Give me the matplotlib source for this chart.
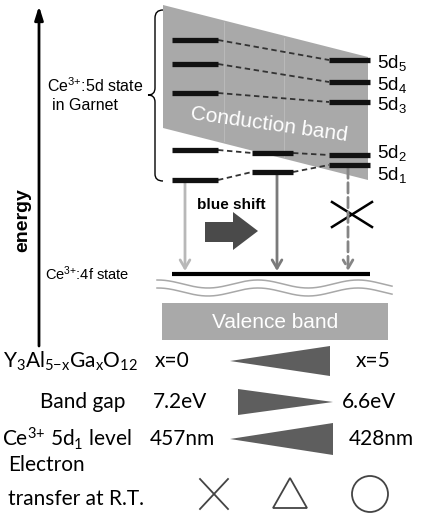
import numpy as np
import matplotlib
matplotlib.use("Agg")
import matplotlib.pyplot as plt
from matplotlib.patches import Polygon, Rectangle, Circle
from matplotlib.path import Path
from matplotlib.patches import PathPatch

plt.rcParams["mathtext.default"] = "regular"
TOP_FONT = ["Liberation Sans", "DejaVu Sans"]
LOW_FONT = ["Lato", "DejaVu Sans"]

# --- diagram values (pixel units, y grows downward) -------------------------
level_names = ["5d$_5$", "5d$_4$", "5d$_3$", "5d$_2$", "5d$_1$"]
levels_x0 = [40, 64, 93, 150, 180]          # Ce3+ 5d levels, x=0 garnet
levels_mid = [None, None, None, 153, 172]   # intermediate Ga content
levels_x5 = [60, 82, 102, 155, 165]         # x=5 garnet
label_y = [63, 85, 105, 153, 175]
level_4f = 274

emission_x = [185, 277, 348]
emission_start = [182, 175, 168]
emission_color = ["#b8b8b8", "#7a7a7a", "#858585"]
emission_style = ["solid", "solid", "dashed"]

row_labels = ["Y$_3$Al$_{5{-}x}$Ga$_x$O$_{12}$", "Band gap", "Ce$^{3{+}}$ 5d$_1$ level"]
row_left_vals = ["x=0", "7.2eV", "457nm"]
row_right_vals = ["x=5", "6.6eV", "428nm"]
row_y = [361, 402, 439]
row_narrow_side = ["left", "right", "left"]
transfer_marks = ["cross", "triangle", "circle"]

# --- figure -----------------------------------------------------------------
fig = plt.figure(figsize=(4.22, 5.15), dpi=100)
ax = fig.add_axes([0, 0, 1, 1])
ax.set_xlim(0, 422)
ax.set_ylim(515, 0)
ax.axis("off")

# conduction band
ax.add_patch(Polygon([(163, 5), (368, 57), (368, 180), (163, 128)],
                     closed=True, fc="#a9a9a9", ec="none", zorder=1))
for xv in (224, 284):
    ax.plot([xv, xv], [5 + (xv - 163) * 52 / 205 + 2, 128 + (xv - 163) * 52 / 205 - 2],
            color="#b9b9b9", lw=0.8, zorder=1.5)
ax.text(269, 125, "Conduction band", color="white", fontsize=15, family=TOP_FONT,
        rotation=-8, ha="center", va="center", rotation_mode="anchor", zorder=2)

# level bars and dashed connectors
cols = [(172, 218), (252, 293), (329, 370)]
for i in range(5):
    ys = [levels_x0[i], levels_mid[i], levels_x5[i]]
    pts = [(c, y) for c, y in zip(cols, ys) if y is not None]
    for (xa, xb), y in pts:
        ax.plot([xa, xb], [y, y], color="#111111", lw=3.8, solid_capstyle="butt", zorder=4)
    for ((xa, xb), ya), ((xc, xd), yb) in zip(pts[:-1], pts[1:]):
        ax.plot([xb, xc], [ya, yb], color="#333333", lw=1.3, ls=(0, (3, 2)), zorder=3)
    ax.text(377, label_y[i], level_names[i], fontsize=13.5, family=TOP_FONT,
            ha="left", va="center")

# brace and 5d label
brace = Path([(163, 10), (155, 10), (155, 18), (155, 88), (155, 95), (148, 95),
              (155, 95), (155, 102), (155, 174), (155, 181), (163, 181)],
             [Path.MOVETO, Path.CURVE3, Path.CURVE3, Path.LINETO, Path.CURVE3, Path.CURVE3,
              Path.CURVE3, Path.CURVE3, Path.LINETO, Path.CURVE3, Path.CURVE3])
ax.add_patch(PathPatch(brace, fc="none", ec="black", lw=1.0))
ax.text(47, 86, "Ce$^{3{+}}$:5d state", fontsize=11.5, family=TOP_FONT, ha="left", va="center")
ax.text(52, 105, "in Garnet", fontsize=11.5, family=TOP_FONT, ha="left", va="center")

# energy axis
ax.annotate("", xy=(39, 6), xytext=(39, 346),
            arrowprops=dict(arrowstyle="-|>,head_length=0.8,head_width=0.25",
                            lw=2, color="black", shrinkA=0, shrinkB=0))
ax.text(23, 220, "energy", fontsize=14, fontweight="bold", family=TOP_FONT,
        rotation=90, ha="center", va="center")

# emission arrows to 4f
for xv, y0, c, st in zip(emission_x, emission_start, emission_color, emission_style):
    ax.annotate("", xy=(xv, level_4f - 3), xytext=(xv, y0),
                arrowprops=dict(arrowstyle="->,head_length=0.6,head_width=0.35",
                                lw=2, color=c, linestyle=st, shrinkA=0, shrinkB=0))
ax.plot([332, 372], [202, 227], color="black", lw=1.8)
ax.plot([332, 372], [227, 202], color="black", lw=1.8)

# blue shift arrow
ax.text(231, 205, "blue shift", fontsize=11, fontweight="bold", family=TOP_FONT,
        ha="center", va="center")
ax.add_patch(Polygon([(205, 222), (233, 222), (233, 212), (258, 231), (233, 250),
                      (233, 242), (205, 242)], closed=True, fc="#4a4a4a", ec="none"))

# 4f state
ax.plot([172, 370], [level_4f, level_4f], color="black", lw=3, solid_capstyle="butt")
ax.text(45, level_4f, "Ce$^{3{+}}$:4f state", fontsize=10.5, family=TOP_FONT,
        ha="left", va="center")

# wavy separators
xw = np.linspace(157, 392, 300)
for off in (284, 292):
    ax.plot(xw, off - 4 * np.cos(2 * np.pi * (xw - 158) / 100), color="#a8a8a8", lw=1.1)

# valence band
ax.add_patch(Rectangle((162, 303), 226, 37, fc="#a9a9a9", ec="none"))
ax.text(275, 322, "Valence band", color="white", fontsize=15, family=TOP_FONT,
        ha="center", va="center")

# table rows
label_x = [3, 40, 2]
left_x = [155, 153, 150]
right_x = [373, 369, 381]
tri_x = [(230, 330), (238, 333), (230, 333)]
tri_half = [15, 13, 16]
for i in range(3):
    y = row_y[i]
    ax.text(label_x[i], y, row_labels[i], fontsize=15, family=LOW_FONT, ha="left", va="center")
    ax.text(left_x[i], y, row_left_vals[i], fontsize=15, family=LOW_FONT, ha="left", va="center")
    ax.text(right_x[i], y, row_right_vals[i], fontsize=15, family=LOW_FONT, ha="center", va="center")
    xa, xb = tri_x[i]
    h = tri_half[i]
    if row_narrow_side[i] == "left":
        verts = [(xa, y), (xb, y - h), (xb, y + h)]
    else:
        verts = [(xa, y - h), (xa, y + h), (xb, y)]
    ax.add_patch(Polygon(verts, closed=True, fc="#5e5e5e", ec="none"))

ax.text(8, 465, "Electron", fontsize=15, family=LOW_FONT, ha="left", va="center")
ax.text(8, 499, "transfer at R.T.", fontsize=15, family=LOW_FONT, ha="left", va="center")

mark_x = [214, 290, 370]
mark_y = 494
for m, xv in zip(transfer_marks, mark_x):
    if m == "cross":
        ax.plot([xv - 14, xv + 14], [mark_y - 15, mark_y + 15], color="#444444", lw=1.3)
        ax.plot([xv - 14, xv + 14], [mark_y + 15, mark_y - 15], color="#444444", lw=1.3)
    elif m == "triangle":
        ax.add_patch(Polygon([(xv, mark_y - 16), (xv - 17, mark_y + 14), (xv + 17, mark_y + 14)],
                             closed=True, fc="none", ec="#444444", lw=1.3))
    else:
        ax.add_patch(Circle((xv, mark_y), 18, fc="none", ec="#444444", lw=1.3))

fig.savefig("out.png", dpi=100)
